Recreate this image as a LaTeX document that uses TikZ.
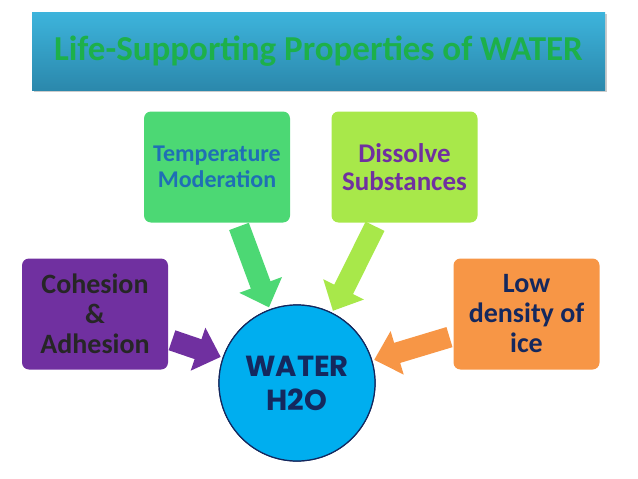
\documentclass[tikz,border=0pt]{standalone}
\usepackage{fontspec}
\setmainfont{Carlito}
\newfontfamily\geo{Poppins}
\usetikzlibrary{arrows.meta,shadows}
\definecolor{tbar1}{HTML}{3DB4DC}
\definecolor{tbar2}{HTML}{2B88AC}
\definecolor{ttxt}{HTML}{1DB04A}
\definecolor{cgreen}{HTML}{4CD874}
\definecolor{clime}{HTML}{A8E84A}
\definecolor{cpurp}{HTML}{7030A0}
\definecolor{corange}{HTML}{F79646}
\definecolor{cblue}{HTML}{00AEEF}
\definecolor{navy}{HTML}{14285E}
\definecolor{tblue}{HTML}{1F6FB5}
\tikzset{
 x=1pt,y=-1pt,
 boxst/.style={rounded corners=7pt,minimum width=146pt,minimum height=111pt,inner sep=0pt,align=center,font=\bfseries\fontsize{28}{30}\selectfont},
 arr/.style={line width=21pt,-{Triangle[width=44pt,length=24pt]},shorten >=2pt,shorten <=4pt},
 wst/.style={circle,fill=cblue,draw=navy,line width=1.2pt,minimum size=156pt,align=center,text=navy,font=\geo\bfseries\fontsize{29}{34}\selectfont}
}
\begin{document}
\begin{tikzpicture}
\useasboundingbox (0,0) rectangle (638,479);
\node[drop shadow={opacity=0.4},top color=tbar1,bottom color=tbar2,minimum width=573pt,minimum height=78pt,inner sep=0pt] (title) at (318.5,51) {};
\node[text=ttxt,font=\bfseries\fontsize{35}{40}\selectfont,double copy shadow={shadow xshift=1.5pt,shadow yshift=-1.5pt,opacity=0}] (tt) at (318.5,51) {\pgfsetfillopacity{1}Life-Supporting Properties of WATER};
\node[boxst,fill=cgreen,text=tblue,font=\bfseries\fontsize{24}{26}\selectfont] (tm) at (217,167) {Temperature\\Moderation};
\node[boxst,fill=clime,text=cpurp,font=\bfseries\fontsize{27}{28}\selectfont] (ds) at (404.5,167) {Dissolve\\Substances};
\node[boxst,fill=cpurp,text=black!85] (co) at (95,314) {Cohesion\\\&\\Adhesion};
\node[boxst,fill=corange,text=navy] (ld) at (526.5,314) {Low\\density of\\ice};
\node[wst] (w) at (297,383) {WATER\\H2O};
\draw[arr,cgreen] (tm) -- (w);
\draw[arr,clime] (ds) -- (w);
\draw[arr,cpurp] (co) -- (w);
\draw[arr,corange] (ld) -- (w);
\node[wst] at (w) {WATER\\H2O};
\end{tikzpicture}
\end{document}
